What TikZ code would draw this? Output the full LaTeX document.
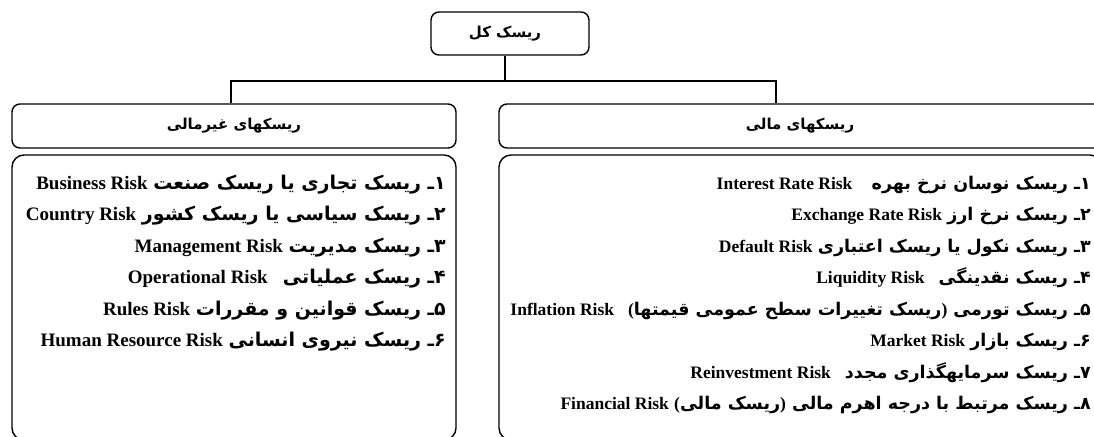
\documentclass[tikz,border=0pt]{standalone}
\usepackage{fontspec}
\setmainfont{Liberation Serif}
\newfontfamily\fa[Script=Arabic]{DejaVu Sans}
\newfontfamily\en{Liberation Serif}
\TeXXeTstate=1
\newcommand{\riskline}[3][0.3em]{\beginR{\fa\bfseries #2}\hspace{#1}{\beginL\en\bfseries #3\endL}\endR}
\tikzset{
  frame/.style={draw, line width=1.4pt, inner sep=0pt},
  topbox/.style={frame, rounded corners=8pt, minimum width=158pt, minimum height=43pt},
  headbox/.style={frame, rounded corners=8pt, minimum height=44pt},
  bodybox/.style={frame, rounded corners=12pt, minimum height=285pt},
  headtext/.style={font=\fa\bfseries\fontsize{15}{18}\selectfont},
  item/.style={anchor=base east, inner sep=0pt, font=\fontsize{17.5}{20}\selectfont},
  itemL/.style={item, font=\fontsize{19}{22}\selectfont},
  link/.style={line width=1.4pt}
}
\begin{document}
\begin{tikzpicture}[x=1pt,y=-1pt]
\useasboundingbox (0,0) rectangle (1094,436);
\clip (0,0) rectangle (1094,436);
% boxes
\node[topbox] (top) at (510,33.5) {};
\node[headtext] (toptext) at (505,33.5) {\beginR ریسک کل\endR};
\node[headbox, minimum width=444pt] (hl) at (234,126) {};
\node[headtext] (hltext) at (234,126) {\beginR ریسکهای غیرمالی\endR};
\node[headbox, minimum width=603pt] (hr) at (800.5,126) {};
\node[headtext] (hrtext) at (800,126) {\beginR ریسکهای مالی\endR};
\node[bodybox, minimum width=444pt] (bl) at (234,297.5) {};
\node[bodybox, minimum width=603pt] (br) at (800.5,297.5) {};
% connectors
\coordinate (j) at (505,81);
\coordinate (jl) at (231,81);
\coordinate (jr) at (776,81);
\draw[link] (top.south -| j) -- (j);
\draw[link] (jl |- hl.north) -- (jl) -- (jr) -- (jr |- hr.north);
% left items
\node[itemL] (l1) at (446,189) {\riskline{۱ـ ریسک تجاری یا ریسک صنعت}{Business Risk}};
\node[itemL] (l2) at (446,220.5) {\riskline{۲ـ ریسک سیاسی یا ریسک کشور}{Country Risk}};
\node[itemL] (l3) at (446,252) {\riskline{۳ـ ریسک مدیریت}{Management Risk}};
\node[itemL] (l4) at (446,283.5) {\riskline[0.8em]{۴ـ ریسک عملیاتی}{Operational Risk}};
\node[itemL] (l5) at (446,315) {\riskline{۵ـ ریسک قوانین و مقررات}{Rules Risk}};
\node[itemL] (l6) at (446,346.5) {\riskline{۶ـ ریسک نیروی انسانی}{Human Resource Risk}};
% right items
\node[item] (r1) at (1091,189) {\riskline[1.1em]{۱ـ ریسک نوسان نرخ بهره}{Interest Rate Risk}};
\node[item] (r2) at (1091,220.5) {\riskline{۲ـ ریسک نرخ ارز}{Exchange Rate Risk}};
\node[item] (r3) at (1091,252) {\riskline{۳ـ ریسک نکول یا ریسک اعتباری}{Default Risk}};
\node[item] (r4) at (1091,283.5) {\riskline[0.8em]{۴ـ ریسک نقدینگی}{Liquidity Risk}};
\node[item] (r5) at (1091,315) {\riskline[0.8em]{۵ـ ریسک تورمی {\en\bfseries)}ریسک تغییرات سطح عمومی قیمتها{\en\bfseries(}}{Inflation Risk}};
\node[item] (r6) at (1091,346.5) {\riskline{۶ـ ریسک بازار}{Market Risk}};
\node[item] (r7) at (1091,378) {\riskline[0.8em]{۷ـ ریسک سرمایهگذاری مجدد}{Reinvestment Risk}};
\node[item] (r8) at (1091,409.5) {\riskline{۸ـ ریسک مرتبط با درجه اهرم مالی {\en\bfseries)}ریسک مالی{\en\bfseries(}}{Financial Risk}};
\end{tikzpicture}
\end{document}
